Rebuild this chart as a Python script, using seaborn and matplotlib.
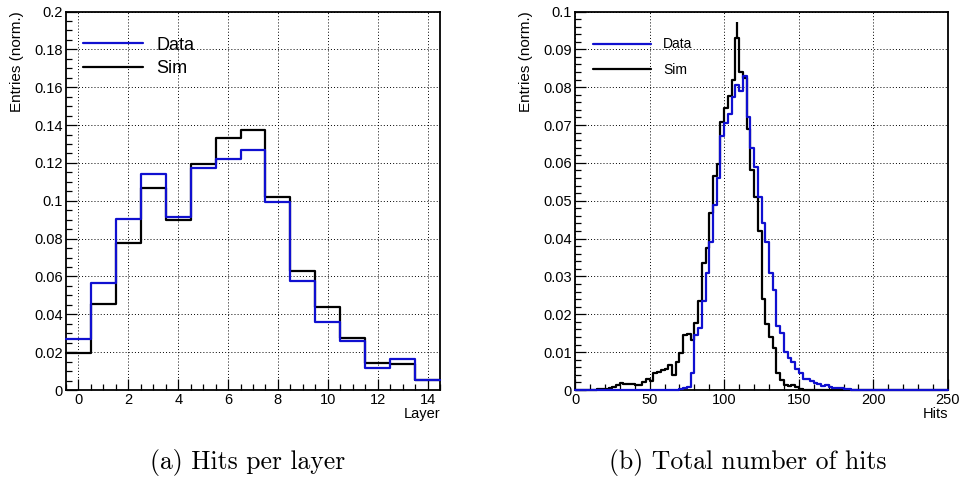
import numpy as np
import pandas as pd
import matplotlib
matplotlib.use("Agg")
import matplotlib.pyplot as plt
from matplotlib.ticker import MultipleLocator, FuncFormatter
import seaborn as sns

# ---- hits per layer (normalised) ----
layers = list(range(15))
layer_data = [0.0272, 0.0563, 0.0905, 0.1140, 0.0914, 0.1174, 0.1222, 0.1268,
              0.0995, 0.0578, 0.0359, 0.0260, 0.0114, 0.0164, 0.0055]
layer_sim = [0.0194, 0.0452, 0.0775, 0.1067, 0.0898, 0.1194, 0.1331, 0.1375,
             0.1019, 0.0629, 0.0438, 0.0275, 0.0143, 0.0139, 0.0055]

# ---- total number of hits (normalised), 2.5-wide bins from 0 to 250 ----
hits_lo, hits_hi, hits_nbins = 0.0, 250.0, 100
hits_data = [
    0, 0, 0, 0, 0, 0, 0, 0, 0, 0,
    0, 0, 0, 0, 0, 0, 0, 0, 0, 0,
    0, 0, 0, 0, 0, 0, 0.0001, 0.0001, 0.0002, 0.0004,
    0.0008, 0.0045, 0.0145, 0.0165, 0.0235, 0.0310, 0.0390, 0.0490, 0.0560, 0.0670,
    0.0705, 0.0730, 0.0775, 0.0805, 0.0790, 0.0830, 0.0720, 0.0640, 0.0590, 0.0510,
    0.0440, 0.0390, 0.0310, 0.0265, 0.0170, 0.0150, 0.0100, 0.0085, 0.0075, 0.0055,
    0.0045, 0.0030, 0.0029, 0.0025, 0.0018, 0.0015, 0.0011, 0.0013, 0.0007, 0.0006,
    0.0006, 0.0005, 0.0003, 0.0002, 0.0001, 0.0001, 0.0001, 0.0001, 0.0001, 0.0001,
    0, 0, 0, 0, 0, 0, 0, 0, 0, 0,
    0, 0, 0, 0, 0, 0, 0, 0, 0, 0,
]
hits_sim = [
    0, 0, 0, 0, 0, 0.0001, 0.0002, 0.0002, 0.0003, 0.0005,
    0.0007, 0.0012, 0.0018, 0.0017, 0.0015, 0.0015, 0.0012, 0.0014, 0.0020, 0.0028,
    0.0024, 0.0044, 0.0048, 0.0052, 0.0056, 0.0066, 0.0040, 0.0075, 0.0098, 0.0145,
    0.0148, 0.0132, 0.0178, 0.0235, 0.0335, 0.0375, 0.0467, 0.0565, 0.0597, 0.0707,
    0.0744, 0.0777, 0.0820, 0.0930, 0.0840, 0.0825, 0.0690, 0.0580, 0.0510, 0.0420,
    0.0240, 0.0175, 0.0140, 0.0110, 0.0045, 0.0026, 0.0013, 0.0010, 0.0013, 0.0007,
    0.0003, 0.0001, 0, 0, 0, 0, 0, 0, 0, 0,
    0, 0, 0, 0, 0, 0, 0, 0, 0, 0,
    0, 0, 0, 0, 0, 0, 0, 0, 0, 0,
    0, 0, 0, 0, 0, 0, 0, 0, 0, 0,
]
# statistical error shown on the tallest simulated bin
sim_err_bin = [43]
sim_err_up = [0.0042]

BLUE = "#1010d0"

sns.set_theme(style="ticks")
plt.rcParams.update({
    "font.family": ["Liberation Sans", "DejaVu Sans"],
    "axes.edgecolor": "black",
    "axes.linewidth": 1.3,
    "xtick.direction": "in",
    "ytick.direction": "in",
    "xtick.major.size": 8, "ytick.major.size": 8,
    "xtick.minor.size": 4, "ytick.minor.size": 4,
    "xtick.major.width": 0.9, "ytick.major.width": 0.9,
    "xtick.minor.width": 0.9, "ytick.minor.width": 0.9,
    "xtick.major.pad": 2.5, "ytick.major.pad": 2.2,
    "xtick.labelsize": 10.5, "ytick.labelsize": 10.5,
    "xtick.color": "black", "ytick.color": "black",
    "text.color": "black", "axes.labelcolor": "black",
})

fig = plt.figure(figsize=(9.6, 4.96), dpi=100)
ax1 = fig.add_axes([66 / 960, 1 - 390 / 496, 374 / 960, 378.5 / 496])
ax2 = fig.add_axes([575 / 960, 1 - 390 / 496, 373 / 960, 378.5 / 496])

fmt = FuncFormatter(lambda v, _: f"{round(v, 5):g}")
grid_kw = dict(color="black", linestyle=(0, (1, 2.2)), linewidth=0.7)
line_kw = dict(element="step", fill=False, linewidth=1.6, clip_on=False)

# left: layer distribution
layer_df = pd.DataFrame({"layer": layers, "Data": layer_data, "Sim": layer_sim})
layer_edges = list(np.arange(layers[0] - 0.5, layers[-1] + 1.0, 1.0))
sns.histplot(data=layer_df, x="layer", weights="Sim", bins=layer_edges,
             color="black", ax=ax1, label="Sim", zorder=3, **line_kw)
sns.histplot(data=layer_df, x="layer", weights="Data", bins=layer_edges,
             color=BLUE, ax=ax1, label="Data", zorder=3.2, **line_kw)
ax1.set_xlim(-0.5, 14.5)
ax1.set_ylim(0, 0.2)
ax1.xaxis.set_major_locator(MultipleLocator(2))
ax1.xaxis.set_minor_locator(MultipleLocator(0.5))
ax1.yaxis.set_major_locator(MultipleLocator(0.02))
ax1.yaxis.set_minor_locator(MultipleLocator(0.005))
ax1.yaxis.set_major_formatter(fmt)

# right: total hits
hits_edges = np.linspace(hits_lo, hits_hi, hits_nbins + 1)
hits_centers = 0.5 * (hits_edges[:-1] + hits_edges[1:])
hits_df = pd.DataFrame({"hits": hits_centers, "Data": hits_data, "Sim": hits_sim})
sns.histplot(data=hits_df, x="hits", weights="Sim", bins=list(hits_edges),
             color="black", ax=ax2, label="Sim", zorder=3, **line_kw)
ax2.errorbar(hits_centers[sim_err_bin], np.array(hits_sim)[sim_err_bin],
             yerr=[[0.0] * len(sim_err_up), sim_err_up], fmt="none",
             ecolor="black", elinewidth=1.6, capsize=0, zorder=3)
sns.histplot(data=hits_df, x="hits", weights="Data", bins=list(hits_edges),
             color=BLUE, ax=ax2, label="Data", zorder=3.2, **line_kw)
ax2.set_xlim(0, 250)
ax2.set_ylim(0, 0.1)
ax2.xaxis.set_major_locator(MultipleLocator(50))
ax2.xaxis.set_minor_locator(MultipleLocator(10))
ax2.yaxis.set_major_locator(MultipleLocator(0.01))
ax2.yaxis.set_minor_locator(MultipleLocator(0.002))
ax2.yaxis.set_major_formatter(fmt)

for ax, xlab in ((ax1, "Layer"), (ax2, "Hits")):
    ax.grid(True, which="major", **grid_kw)
    ax.set_axisbelow(True)
    ax.tick_params(which="both", top=False, right=False)
    for s in ax.spines.values():
        s.set_visible(True)
        s.set_color("black")
    ax.set_xlabel(xlab, loc="right", fontsize=10.5)
    ax.set_ylabel("Entries (norm.)", loc="top", fontsize=11)
    ax.xaxis.set_label_coords(1.0, -0.045)
ax1.yaxis.set_label_coords(-0.113, 1.0)
ax2.yaxis.set_label_coords(-0.112, 1.0)

# legends (Data first, then Sim)
h1, l1 = ax1.get_legend_handles_labels()
order = [l1.index("Data"), l1.index("Sim")]
ax1.legend([h1[i] for i in order], [l1[i] for i in order], loc="upper left",
           bbox_to_anchor=(17 / 374, 1 - 25 / 378.5), frameon=False,
           fontsize=13, handlelength=3.3, handletextpad=0.75,
           labelspacing=0.35, borderpad=0, borderaxespad=0)
h2, l2 = ax2.get_legend_handles_labels()
order = [l2.index("Data"), l2.index("Sim")]
ax2.legend([h2[i] for i in order], [l2[i] for i in order], loc="upper left",
           bbox_to_anchor=(18 / 373, 1 - 26 / 378.5), frameon=False,
           fontsize=10, handlelength=4.2, handletextpad=0.85,
           labelspacing=0.82, borderpad=0, borderaxespad=0)

# sub-figure captions
fig.text(248 / 960, 1 - 463 / 496, "(a) Hits per layer", family="cmr10",
         fontsize=18.5, ha="center", va="center")
fig.text(748 / 960, 1 - 463 / 496, "(b) Total number of hits", family="cmr10",
         fontsize=18.5, ha="center", va="center")

fig.savefig("out.png", dpi=100)
